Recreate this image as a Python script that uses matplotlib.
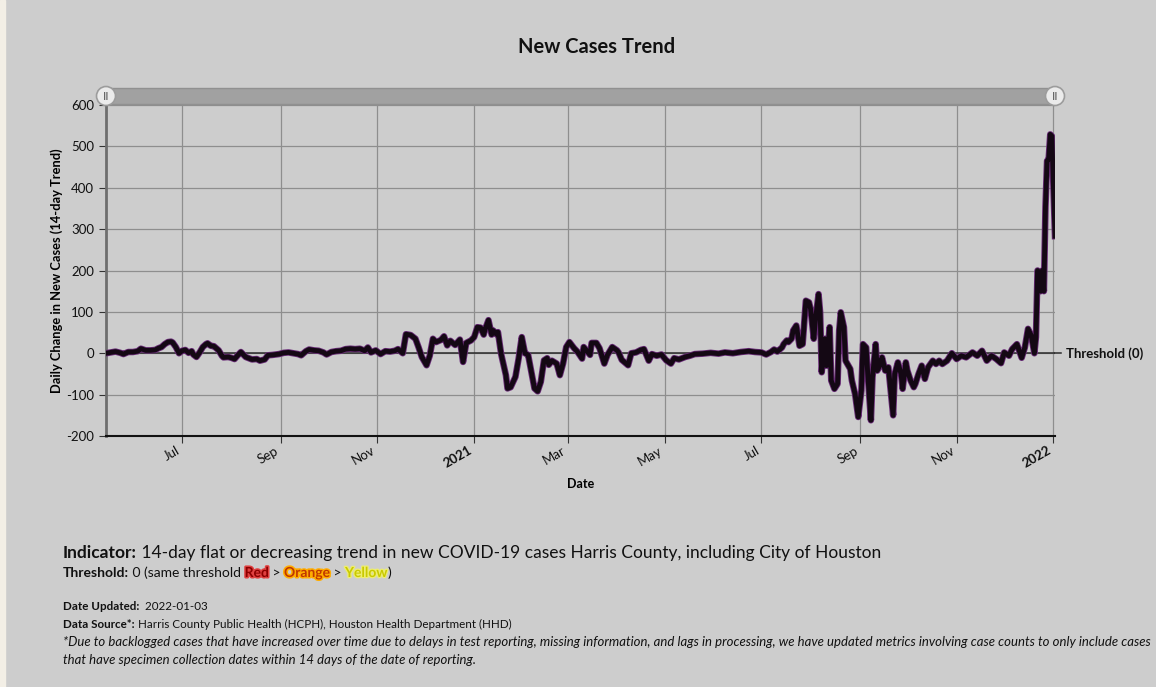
import matplotlib
matplotlib.use("Agg")
import matplotlib.pyplot as plt
import matplotlib.patheffects as pe
import matplotlib.transforms as mtransforms
from matplotlib.patches import Rectangle, Circle
import pandas as pd

# valores (cambio diario, tendencia de 14 dias)
fechas = [
    "2020-05-14", "2020-05-17", "2020-05-20", "2020-05-23", "2020-05-25", "2020-05-28",
    "2020-05-31", "2020-06-03", "2020-06-05", "2020-06-08", "2020-06-11", "2020-06-14",
    "2020-06-16", "2020-06-18", "2020-06-20", "2020-06-22", "2020-06-24", "2020-06-25",
    "2020-06-27", "2020-06-29", "2020-07-01", "2020-07-03", "2020-07-05", "2020-07-07",
    "2020-07-08", "2020-07-10", "2020-07-12", "2020-07-14", "2020-07-16", "2020-07-17",
    "2020-07-19", "2020-07-21", "2020-07-24", "2020-07-26", "2020-07-27", "2020-07-30",
    "2020-08-01", "2020-08-03", "2020-08-05", "2020-08-07", "2020-08-10", "2020-08-12",
    "2020-08-14", "2020-08-17", "2020-08-19", "2020-08-22", "2020-08-24", "2020-08-27",
    "2020-08-31", "2020-09-03", "2020-09-06",
    "2020-09-09", "2020-09-12", "2020-09-14", "2020-09-17", "2020-09-19", "2020-09-22",
    "2020-09-25", "2020-09-28", "2020-09-30", "2020-10-03", "2020-10-06", "2020-10-09",
    "2020-10-12", "2020-10-15", "2020-10-18", "2020-10-21", "2020-10-24", "2020-10-26",
    "2020-10-28", "2020-10-31", "2020-11-03", "2020-11-06", "2020-11-09", "2020-11-12",
    "2020-11-14", "2020-11-17", "2020-11-19", "2020-11-22", "2020-11-25", "2020-11-27",
    "2020-11-29", "2020-12-02", "2020-12-04", "2020-12-06", "2020-12-08", "2020-12-11",
    "2020-12-13", "2020-12-15", "2020-12-17", "2020-12-20", "2020-12-23", "2020-12-25",
    "2020-12-27", "2020-12-30",
    "2021-01-01", "2021-01-03", "2021-01-05", "2021-01-07", "2021-01-08", "2021-01-10",
    "2021-01-12", "2021-01-13", "2021-01-15", "2021-01-16", "2021-01-18", "2021-01-21",
    "2021-01-22", "2021-01-24", "2021-01-27", "2021-01-29", "2021-01-31", "2021-02-02",
    "2021-02-04", "2021-02-06", "2021-02-08", "2021-02-10", "2021-02-12", "2021-02-14",
    "2021-02-16", "2021-02-17", "2021-02-19", "2021-02-22", "2021-02-24", "2021-02-26",
    "2021-02-28", "2021-03-02", "2021-03-05", "2021-03-07", "2021-03-10", "2021-03-11",
    "2021-03-15", "2021-03-16", "2021-03-19", "2021-03-21", "2021-03-24", "2021-03-26",
    "2021-03-29", "2021-04-01", "2021-04-02", "2021-04-04", "2021-04-08", "2021-04-10",
    "2021-04-13", "2021-04-16", "2021-04-18", "2021-04-21", "2021-04-23", "2021-04-26",
    "2021-04-29", "2021-05-02", "2021-05-05", "2021-05-07", "2021-05-10", "2021-05-14",
    "2021-05-17", "2021-05-20", "2021-05-25", "2021-05-30", "2021-06-04", "2021-06-08",
    "2021-06-13", "2021-06-18", "2021-06-23", "2021-06-27", "2021-07-01", "2021-07-04",
    "2021-07-07", "2021-07-09", "2021-07-11", "2021-07-14", "2021-07-15", "2021-07-17",
    "2021-07-18", "2021-07-20", "2021-07-21", "2021-07-23", "2021-07-25", "2021-07-27",
    "2021-07-29", "2021-07-31", "2021-08-01", "2021-08-03", "2021-08-04", "2021-08-06",
    "2021-08-07", "2021-08-08", "2021-08-10", "2021-08-11", "2021-08-13", "2021-08-14",
    "2021-08-16", "2021-08-18", "2021-08-19", "2021-08-20", "2021-08-22", "2021-08-23",
    "2021-08-26", "2021-08-27", "2021-08-29", "2021-08-31", "2021-09-02", "2021-09-03",
    "2021-09-05", "2021-09-06", "2021-09-08", "2021-09-09", "2021-09-11", "2021-09-12",
    "2021-09-14", "2021-09-15", "2021-09-17", "2021-09-19", "2021-09-22", "2021-09-23",
    "2021-09-25", "2021-09-27", "2021-09-28", "2021-09-30", "2021-10-01", "2021-10-03",
    "2021-10-05", "2021-10-06", "2021-10-08", "2021-10-10", "2021-10-12", "2021-10-14",
    "2021-10-17", "2021-10-19", "2021-10-21", "2021-10-23", "2021-10-26", "2021-10-29",
    "2021-11-01", "2021-11-04", "2021-11-07", "2021-11-11", "2021-11-14", "2021-11-17",
    "2021-11-20", "2021-11-23", "2021-11-26", "2021-11-29", "2021-12-01", "2021-12-04",
    "2021-12-06", "2021-12-09", "2021-12-12", "2021-12-14", "2021-12-16", "2021-12-18",
    "2021-12-20", "2021-12-21", "2021-12-22", "2021-12-23", "2021-12-24", "2021-12-25",
    "2021-12-26", "2021-12-27", "2021-12-28", "2021-12-29", "2021-12-30", "2021-12-31",
    "2022-01-01", "2022-01-02",
]
valores = [
    0, 2, 4, 1, -2, 3,
    3, 5, 11, 7, 7, 8,
    12, 15, 22, 27, 28, 26,
    15, 0, 6, 8, 1, 5,
    -3, -9, 2, 15, 22, 24,
    18, 17, 7, -6, -10, -9,
    -11, -14, -5, 3, -9, -12,
    -15, -14, -18, -15, -5, -4,
    -2, 1, 2,
    0, -2, -5, 5, 9, 7,
    6, 2, -3, 3, 5, 6,
    10, 11, 10, 11, 6, 14,
    2, 7, -2, 5, 4, 6,
    10, 0, 46, 44, 35, 14,
    -9, -29, -6, 35, 27, 32,
    41, 19, 30, 20, 33, -21,
    25, 31,
    39, 63, 62, 45, 59, 80,
    45, 55, 46, 51, -2, -53,
    -85, -82, -57, -13, 39, 0,
    -4, -45, -85, -92, -69, -17,
    -12, -28, -18, -25, -53, -25,
    15, 27, 12, 4, -13, 15,
    -4, 25, 25, 12, -25, -4,
    15, 7, 2, -16, -29, 0,
    2, 8, 10, -18, -2, -6,
    -3, -17, -25, -12, -15, -9,
    -6, -2, -1, 1, -1, 2,
    0, 3, 5, 3, 2, -3,
    3, 9, 4, 14, 22, 31,
    27, 35, 55, 67, 18, 22,
    127, 123, 107, 35, 79, 143,
    99, -46, 35, -30, 63, -66,
    -86, -74, 55, 99, 63, -18,
    -38, -66, -98, -154, -90, 22,
    14, -50, -162, -58, 22, -42,
    -26, -10, -42, -34, -150, -50,
    -22, -50, -86, -22, -42, -66,
    -82, -74, -50, -30, -62, -34,
    -18, -26, -18, -26, -18, 0,
    -14, -6, -10, 2, -6, 6,
    -18, -6, -14, -24, 2, -6,
    10, 22, -11, 14, 59, 43,
    0, 39, 200, 195, 150, 200,
    150, 354, 465, 469, 529, 525,
    402, 283,
]

tick_fechas = ["2020-07-01", "2020-09-01", "2020-11-01", "2021-01-01", "2021-03-01",
               "2021-05-01", "2021-07-01", "2021-09-01", "2021-11-01", "2022-01-01"]
tick_textos = ["Jul", "Sep", "Nov", "2021", "Mar", "May", "Jul", "Sep", "Nov", "2022"]

fondo = "#cdcdcd"
W, H = 1156, 687
plt.rcParams["font.family"] = ["Lato", "DejaVu Sans"]
plt.rcParams["axes.unicode_minus"] = False

fig = plt.figure(figsize=(W / 100, H / 100), dpi=100, facecolor=fondo)
ax = fig.add_axes([106 / W, 1 - 436 / H, (1055 - 106) / W, (436 - 105) / H])
ax.set_facecolor(fondo)

x = pd.to_datetime(fechas)
ax.plot(x, valores, color="#140814", lw=3.5, solid_joinstyle="round", zorder=4,
        path_effects=[pe.Stroke(linewidth=4.7, foreground="#6a2c78", joinstyle="round"),
                      pe.Normal()])

# linea de umbral
ax.axhline(0, color="#2a2a2a", lw=1.1, zorder=3)
ax.plot([pd.Timestamp("2022-01-02"), pd.Timestamp("2022-01-06")], [0, 0],
        color="#2a2a2a", lw=1.1, clip_on=False)
ax.text(pd.Timestamp("2022-01-09"), 0, "Threshold (0)", fontsize=9.5, fontweight="bold",
        va="center", ha="left", color="#111111")

ax.set_xlim(pd.Timestamp("2020-05-14"), pd.Timestamp("2022-01-02"))
ax.set_ylim(-200, 600)
ax.set_yticks(range(-200, 601, 100))
ax.set_xticks(pd.to_datetime(tick_fechas))
ax.set_xticklabels(tick_textos, rotation=30, ha="right")
for lab in ax.get_xticklabels():
    if lab.get_text() in ("2021", "2022"):
        lab.set_fontweight("bold")
ax.tick_params(axis="both", labelsize=9.5, length=5, color="#333333", labelcolor="#111111")
ax.tick_params(axis="x", pad=1)

ax.grid(True, color="#8e8e8e", lw=0.9)
ax.set_axisbelow(True)
for s in ["top", "right"]:
    ax.spines[s].set_visible(False)
ax.spines["left"].set_color("#6e6e6e")
ax.spines["left"].set_linewidth(2)
ax.spines["bottom"].set_color("#111111")
ax.spines["bottom"].set_linewidth(1.5)

ax.set_xlabel("Date", fontsize=9, fontweight="bold", labelpad=6)
ax.set_ylabel("Daily Change in New Cases (14-day Trend)", fontsize=9.3, fontweight="bold",
              labelpad=2)

ident = mtransforms.IdentityTransform()

# franja clara a la izquierda
fig.add_artist(Rectangle((0, 0), 5, H, transform=ident, color="#f3efe6", zorder=0))

# barra deslizante superior
fig.add_artist(Rectangle((106, H - 104), 949, 16, transform=ident,
                         facecolor="#a1a1a1", edgecolor="#909090", lw=1, zorder=2))
for cx in (106, 1055):
    fig.add_artist(Circle((cx, H - 96), 9.5, transform=ident, facecolor="#ebebeb",
                          edgecolor="#9c9c9c", lw=1.2, zorder=3))
    fig.text(cx, H - 96.5, "II", transform=ident, fontsize=8.5, color="#555555",
             ha="center", va="center", zorder=4)

fig.text(597, H - 47, "New Cases Trend", transform=ident, fontsize=14.5,
         fontweight="bold", ha="center", va="center", color="#111111")

renderer = fig.canvas.get_renderer()


def dibujar(x0, y0, partes, size):
    xx = x0
    hechos = []
    for txt, kw in partes:
        kw = dict(kw)
        t = fig.text(xx, H - y0, txt, transform=ident, fontsize=size,
                     va="baseline", ha="left", color=kw.pop("color", "#111111"), **kw)
        xx += t.get_window_extent(renderer).width
        hechos.append(t)
    return hechos, xx - x0


def tam_ajustado(partes, ancho_obj, size=10):
    hechos, ancho = dibujar(0, 0, partes, size)
    for t in hechos:
        t.remove()
    return size * ancho_obj / ancho


linea_ind = [("Indicator:", {"fontweight": "bold"}),
             (" 14-day flat or decreasing trend in new COVID-19 cases Harris County, including City of Houston", {})]
linea_umb = [("Threshold:", {"fontweight": "bold"}),
             (" 0 (same threshold ", {}),
             ("Red", {"fontweight": "bold", "color": "#8c0000",
                      "path_effects": [pe.withStroke(linewidth=2.2, foreground="#e04040")]}),
             (" > ", {}),
             ("Orange", {"fontweight": "bold", "color": "#c03800",
                         "path_effects": [pe.withStroke(linewidth=2.2, foreground="#ffad00")]}),
             (" > ", {}),
             ("Yellow", {"fontweight": "bold", "color": "#c9c900",
                         "path_effects": [pe.withStroke(linewidth=1.8, foreground="#eeee70")]}),
             (")", {})]
linea_fecha = [("Date Updated:", {"fontweight": "bold"}), ("  2022-01-03", {})]
linea_fuente = [("Data Source*:", {"fontweight": "bold"}),
                (" Harris County Public Health (HCPH), Houston Health Department (HHD)", {})]
nota1 = [("*Due to backlogged cases that have increased over time due to delays in test reporting, "
          "missing information, and lags in processing, we have updated metrics involving case "
          "counts to only include cases", {"style": "italic"})]
nota2 = [("that have specimen collection dates within 14 days of the date of reporting.",
          {"style": "italic"})]

dibujar(63, 558, linea_ind, 12.5)
dibujar(63, 577, linea_umb, 10)
t_small = tam_ajustado(linea_fuente, 510 - 63)
dibujar(63, 610, linea_fecha, t_small)
dibujar(63, 628, linea_fuente, t_small)
t_nota = tam_ajustado(nota1, 1148 - 63)
dibujar(63, 646, nota1, t_nota)
dibujar(63, 664, nota2, t_nota)

fig.savefig("out.png", dpi=100, facecolor=fig.get_facecolor())
